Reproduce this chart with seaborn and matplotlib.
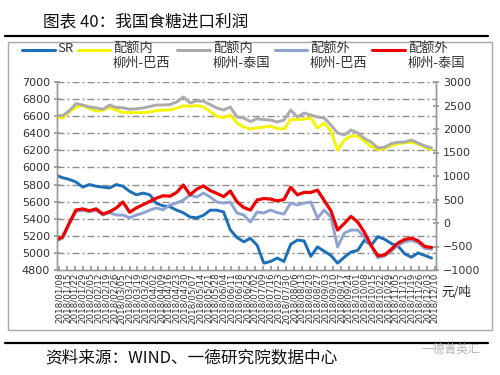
import pandas as pd
import numpy as np
import seaborn as sns
import matplotlib.pyplot as plt
import matplotlib.dates as mdates
from matplotlib.lines import Line2D
from matplotlib.patches import Rectangle
from matplotlib.collections import LineCollection

# data, one value every 6 days from 2018-01-05
dates = pd.date_range("2018-01-05", periods=57, freq="6D")

sr = [5910, 5880, 5860, 5830, 5770, 5800, 5780, 5770, 5760, 5800,
      5780, 5720, 5680, 5700, 5680, 5580, 5550, 5540, 5500, 5470,
      5420, 5410, 5440, 5500, 5500, 5480, 5270, 5180, 5130, 5170,
      5090, 4880, 4900, 4940, 4900, 5100, 5150, 5140, 4960, 5070,
      5020, 4970, 4880, 4950, 5010, 5030, 5150, 5090, 5190, 5160,
      5110, 5080, 4990, 4950, 5000, 4970, 4940]

in_brazil = [2255, 2234, 2362, 2468, 2500, 2440, 2380, 2400, 2460, 2400,
             2350, 2350, 2345, 2350, 2362, 2390, 2404, 2404, 2440, 2495,
             2480, 2500, 2470, 2370, 2270, 2240, 2300, 2127, 2042, 2000,
             2021, 2040, 2060, 2010, 2000, 2200, 2200, 2210, 2234, 2021,
             2127, 1950, 1553, 1766, 1850, 1850, 1740, 1630, 1560, 1580,
             1650, 1690, 1702, 1720, 1680, 1610, 1560]

in_thai = [2300, 2280, 2390, 2540, 2510, 2470, 2450, 2420, 2510, 2460,
           2450, 2420, 2430, 2447, 2480, 2510, 2510, 2520, 2574, 2681,
           2553, 2600, 2590, 2520, 2447, 2404, 2468, 2255, 2234, 2160,
           2220, 2200, 2191, 2150, 2190, 2404, 2255, 2340, 2298, 2255,
           2234, 2085, 1915, 1872, 1979, 1915, 1800, 1723, 1596, 1610,
           1690, 1720, 1723, 1766, 1700, 1640, 1596]

out_brazil = [-390, -320, -20, 250, 270, 240, 270, 170, 220, 170,
              170, 110, 170, 212, 276, 319, 280, 383, 425, 490,
              595, 553, 638, 553, 446, 425, 446, 212, 170, 21,
              234, 212, 276, 220, 190, 425, 383, 425, 446, 106,
              276, 127, -510, -214, -150, -150, -300, -480, -740, -700,
              -600, -470, -400, -370, -420, -540, -560]

out_thai = [-360, -300, 0, 276, 300, 260, 300, 190, 240, 320,
            446, 230, 320, 390, 460, 530, 580, 570, 650, 808,
            600, 720, 790, 690, 630, 560, 680, 450, 330, 276,
            490, 520, 510, 470, 500, 760, 600, 650, 650, 700,
            480, 260, -150, -10, 140, 20, -200, -480, -700, -680,
            -560, -425, -350, -320, -380, -500, -520]

labels = ["SR", "配额内\n柳州-巴西", "配额内\n柳州-泰国", "配额外\n柳州-巴西", "配额外\n柳州-泰国"]
colors = ["#1B6FB8", "#F5F500", "#ABABAB", "#8FA3D3", "#F00000"]

df = pd.DataFrame({"date": dates, "sr": sr, "in_brazil": in_brazil, "in_thai": in_thai,
                   "out_brazil": out_brazil, "out_thai": out_thai})

sns.set_theme(style="white")
plt.rcParams['font.family'] = ['Noto Sans CJK SC', 'DejaVu Sans']

W, H = 500, 375
x_start, x_end = pd.Timestamp("2018-01-06"), pd.Timestamp("2018-12-11")

fig = plt.figure(figsize=(5, 3.75), dpi=100)
ax = fig.add_axes([57 / W, 1 - 270 / H, (436 - 57) / W, (270 - 82) / H])

# dash-dot grid at the left-axis ticks, pieces given in date units
# (pattern in pixels: dash 7, gap 3, dot 2, gap 3 over a 379 px wide plot)
x0n, x1n = mdates.date2num(x_start), mdates.date2num(x_end)
px = (x1n - x0n) / 379
segs = []
for v in range(5000, 7001, 200):
    for s in np.arange(x0n, x1n, 15 * px):
        segs.append([(s, v), (min(s + 7 * px, x1n), v)])
        if s + 12 * px <= x1n:
            segs.append([(s + 10 * px, v), (s + 12 * px, v)])
ax.add_collection(LineCollection(segs, colors="#8C8C8C", linewidths=1.0, zorder=1))

lw = 2.1
sns.lineplot(data=df, x="date", y="sr", ax=ax, color=colors[0], lw=lw,
             errorbar=None, legend=False, zorder=3)
ax.set_ylim(4800, 7000)
ax.set_yticks(range(4800, 7001, 200))
ax.set_xlim(x_start, x_end)

ax2 = ax.twinx()
ax2.patch.set_visible(False)
sns.lineplot(data=df, x="date", y="in_brazil", ax=ax2, color=colors[1], lw=lw, errorbar=None, legend=False)
sns.lineplot(data=df, x="date", y="in_thai", ax=ax2, color=colors[2], lw=lw, errorbar=None, legend=False)
sns.lineplot(data=df, x="date", y="out_brazil", ax=ax2, color=colors[3], lw=lw, errorbar=None, legend=False)
sns.lineplot(data=df, x="date", y="out_thai", ax=ax2, color=colors[4], lw=2.3, errorbar=None, legend=False)
ax2.set_ylim(-1000, 3000)
ax2.set_yticks(range(-1000, 3001, 500))
ax2.grid(False)

xt = pd.date_range("2018-01-08", "2018-12-10", freq="7D")
ax.set_xticks(xt)
ax.set_xticklabels([d.strftime("%Y/%m/%d") for d in xt], rotation=90, fontsize=6.3,
                   family="DejaVu Sans", color="#333333")
ax.set_xlim(x_start, x_end)

for a in (ax, ax2):
    a.set_xlabel("")
    a.set_ylabel("")
    for s in a.spines.values():
        s.set_color("#9A9A9A")
        s.set_linewidth(1)
    a.spines["top"].set_visible(False)

ax.tick_params(axis="y", labelsize=8, colors="#333333", length=4, direction="inout", color="#9A9A9A", pad=3)
ax2.tick_params(axis="y", labelsize=8, colors="#333333", length=4, direction="inout", color="#9A9A9A", pad=3)
ax.tick_params(axis="x", length=3, direction="in", color="#9A9A9A", pad=2, bottom=True)
for t in ax.get_yticklabels() + ax2.get_yticklabels():
    t.set_family("DejaVu Sans")

fig.text(441 / W, 1 - 292 / H, "元/吨", fontsize=9, va="center", color="#222222")

# legend drawn by hand, handles next to the first label line
leg_x = [(22, 55, 57), (78, 110, 113), (177, 210, 213), (275, 307, 310), (372, 405, 408)]
for (x0, x1, tx), c, lab in zip(leg_x, colors, labels):
    fig.add_artist(Line2D([x0 / W, x1 / W], [1 - 50 / H] * 2, color=c, lw=2.2))
    fig.text(tx / W, 1 - 42 / H, lab, fontsize=9.5, va="top", ha="left",
             color="#333333", linespacing=1.15)

# frame, title and source
fig.text(43 / W, 1 - 22 / H, "图表 40：我国食糖进口利润", fontsize=12, va="center", color="#111111")
fig.add_artist(Line2D([5 / W, 488 / W], [1 - 36 / H] * 2, color="black", lw=1.6))
fig.add_artist(Rectangle((8 / W, 1 - 330 / H), (492 - 8) / W, (330 - 42) / H,
                         fill=False, ec="#A8A8A8", lw=1, transform=fig.transFigure))
fig.add_artist(Line2D([5 / W, 488 / W], [1 - 343 / H] * 2, color="black", lw=1.6))
fig.text(45 / W, 1 - 358 / H, "资料来源：WIND、一德研究院数据中心", fontsize=12, va="center", color="#111111")
fig.text(422 / W, 1 - 349 / H, "一德菁英汇", fontsize=8.5, va="center", color="#B5B5B5")

fig.savefig("out.png", dpi=100)
